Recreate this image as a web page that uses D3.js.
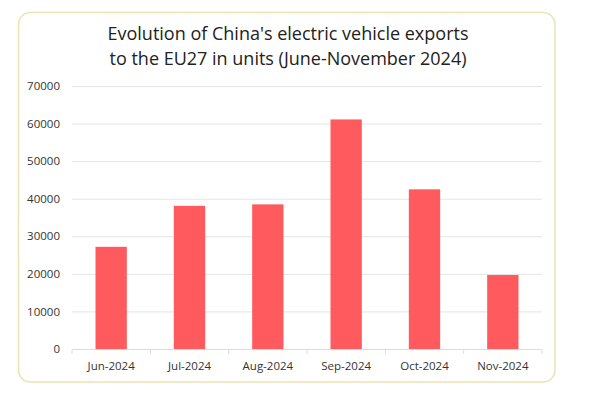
<!DOCTYPE html>
<html>
<head>
<meta charset="utf-8">
<style>
  body { margin: 0; background: #fff; font-family: "Open Sans", sans-serif; }
</style>
<title>China EV exports to EU27</title>
</head>
<body>
<script src="https://cdn.jsdelivr.net/npm/d3@7"></script>
<script>
  // data
  var months = ["Jun-2024", "Jul-2024", "Aug-2024", "Sep-2024", "Oct-2024", "Nov-2024"];
  var units = [27200, 38100, 38500, 61100, 42500, 19700];
  var yTicks = [0, 10000, 20000, 30000, 40000, 50000, 60000, 70000];
  var titleLines = ["Evolution of China's electric vehicle exports", "to the EU27 in units (June-November 2024)"];

  var width = 600, height = 396;
  var plotLeft = 72, plotRight = 542, plotTop = 86, plotBottom = 349;

  var svg = d3.select("body").append("svg").attr("width", width).attr("height", height);

  // card
  svg.append("rect").attr("x", 18.5).attr("y", 12.5).attr("width", 536.5).attr("height", 369.5)
    .attr("rx", 12).attr("fill", "#fff").attr("stroke", "#ebe3b2").attr("stroke-width", 1.5);

  svg.selectAll("text.title").data(titleLines).enter().append("text")
    .attr("class", "title")
    .attr("x", 288).attr("y", function(d, i) { return 40 + i * 25; })
    .attr("text-anchor", "middle").attr("font-size", "18px").attr("fill", "#222")
    .text(function(d) { return d; });

  var x = d3.scaleBand().domain(months).range([plotLeft, plotRight]).paddingInner(0.6).paddingOuter(0.3);
  var y = d3.scaleLinear().domain([0, 70000]).range([plotBottom, plotTop]);

  // grid
  svg.append("g").selectAll("line").data(yTicks.slice(1)).enter().append("line")
    .attr("x1", plotLeft).attr("x2", plotRight)
    .attr("y1", function(d) { return y(d) + 0.5; }).attr("y2", function(d) { return y(d) + 0.5; })
    .attr("stroke", "#e4e4e4").attr("stroke-width", 1);

  // y labels
  var yAxis = d3.axisLeft(y).tickValues(yTicks).tickSize(0).tickPadding(12).tickFormat(d3.format("d"));
  var gy = svg.append("g").attr("transform", "translate(" + plotLeft + ",0)").call(yAxis);
  gy.select(".domain").remove();
  gy.selectAll("text").attr("font-family", "Open Sans").attr("font-size", "11.5px").attr("fill", "#333");

  // bars
  svg.append("g").selectAll("rect").data(units).enter().append("rect")
    .attr("x", function(d, i) { return x(months[i]); })
    .attr("y", function(d) { return y(d); })
    .attr("width", x.bandwidth())
    .attr("height", function(d) { return plotBottom - y(d); })
    .attr("fill", "#ff5b5e");

  // x axis
  var gx = svg.append("g").attr("transform", "translate(0," + plotBottom + ")")
    .call(d3.axisBottom(x).tickSize(0).tickPadding(13));
  gx.select(".domain").attr("stroke", "#dcdcdc").attr("d", "M" + plotLeft + ",0.5H" + plotRight);
  gx.selectAll("text").attr("font-family", "Open Sans").attr("font-size", "11.5px").attr("fill", "#333");

  // tick marks on band boundaries
  var step = x.step();
  var bounds = d3.range(months.length + 1).map(function(i) { return plotLeft + i * step; });
  gx.append("g").selectAll("line").data(bounds).enter().append("line")
    .attr("x1", function(d) { return d; }).attr("x2", function(d) { return d; })
    .attr("y1", 0.5).attr("y2", 5)
    .attr("stroke", "#dcdcdc");
</script>
</body>
</html>
